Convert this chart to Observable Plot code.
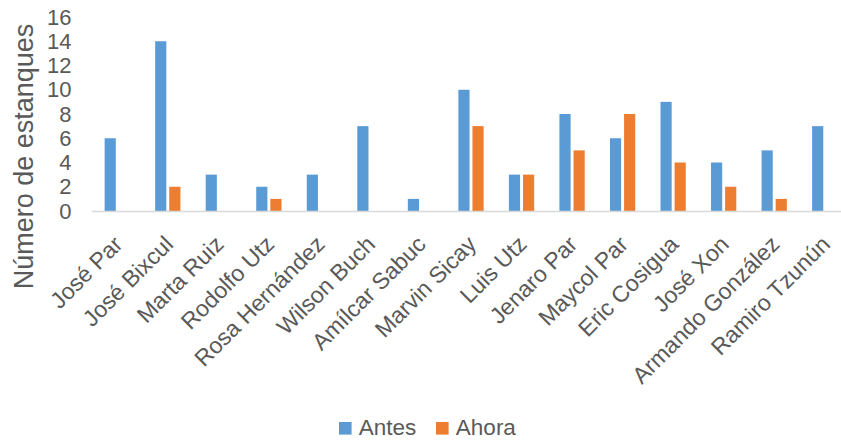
<!DOCTYPE html>
<html>
<head>
<meta charset="utf-8">
<script src="https://cdn.jsdelivr.net/npm/d3@7"></script>
<script src="https://cdn.jsdelivr.net/npm/@observablehq/plot@0.6"></script>
<style>
  html, body { margin: 0; padding: 0; background: #fff; overflow: hidden; }
  #chart { width: 841px; }
  #legend { width: 841px; height: 36px; display: flex; justify-content: center; align-items: center; padding-left: 34px; padding-top: 10px; box-sizing: border-box; }
  .lg-swatches { font-family: "Liberation Sans", Arial, sans-serif !important; font-size: 22.5px !important; color: #595959 !important; margin: 0 !important; min-height: 0 !important; }
  .lg-swatch > svg { margin-right: 7px !important; }
  .lg-swatch { margin-right: 20px !important; }
</style>
</head>
<body>
<div id="chart"></div>
<div id="legend"></div>
<script>
// Ponds per producer, before and now
const names = [
  "José Par", "José Bixcul", "Marta Ruiz", "Rodolfo Utz", "Rosa Hernández",
  "Wilson Buch", "Amílcar Sabuc", "Marvin Sicay", "Luis Utz", "Jenaro Par",
  "Maycol Par", "Eric Cosigua", "José Xon", "Armando González", "Ramiro Tzunún"
];
const antes = [6, 14, 3, 2, 3, 7, 1, 10, 3, 8, 6, 9, 4, 5, 7];
const ahora = [0, 2, 0, 1, 0, 0, 0, 7, 3, 5, 8, 4, 2, 1, 0];
const yTicks = [0, 2, 4, 6, 8, 10, 12, 14, 16];
const series = ["Antes", "Ahora"];
const colors = ["#5B9BD5", "#ED7D31"];

const rows = names.map((name, i) => ({name, antes: antes[i], ahora: ahora[i]}));

const font = "Liberation Sans, Arial, sans-serif";
const ink = "#595959";

const chart = Plot.plot({
  width: 841,
  height: 405,
  marginLeft: 92,
  marginRight: -9,
  marginTop: 17,
  marginBottom: 194,
  style: {fontFamily: font, fontSize: "22px", color: ink, background: "white"},
  x: {domain: names, paddingInner: 0.5, paddingOuter: 0.25, round: false},
  y: {domain: [0, 16]},
  marks: [
    Plot.barY(rows, {x: "name", y: "antes", fill: colors[0], insetRight: 14.1}),
    Plot.barY(rows, {x: "name", y: "ahora", fill: colors[1], insetLeft: 14.1}),
    Plot.ruleY([0], {stroke: "#d9d9d9", strokeWidth: 1.5}),
    Plot.axisY({ticks: yTicks, tickSize: 0, tickPadding: 21, label: null, fill: ink, fontSize: 22}),
    Plot.axisX({tickRotate: -45, tickSize: 0, tickPadding: 29, dx: 1, label: null, fill: ink, fontSize: 23}),
    Plot.text(["Número de estanques"], {
      frameAnchor: "left", textAnchor: "middle", rotate: -90, dx: -68, dy: 42,
      fontSize: 27, fill: ink
    })
  ]
});
document.getElementById("chart").append(chart);

const legend = Plot.legend({
  color: {domain: series, range: colors},
  swatchSize: 12.6,
  className: "lg"
});
document.getElementById("legend").append(legend);
</script>
</body>
</html>
